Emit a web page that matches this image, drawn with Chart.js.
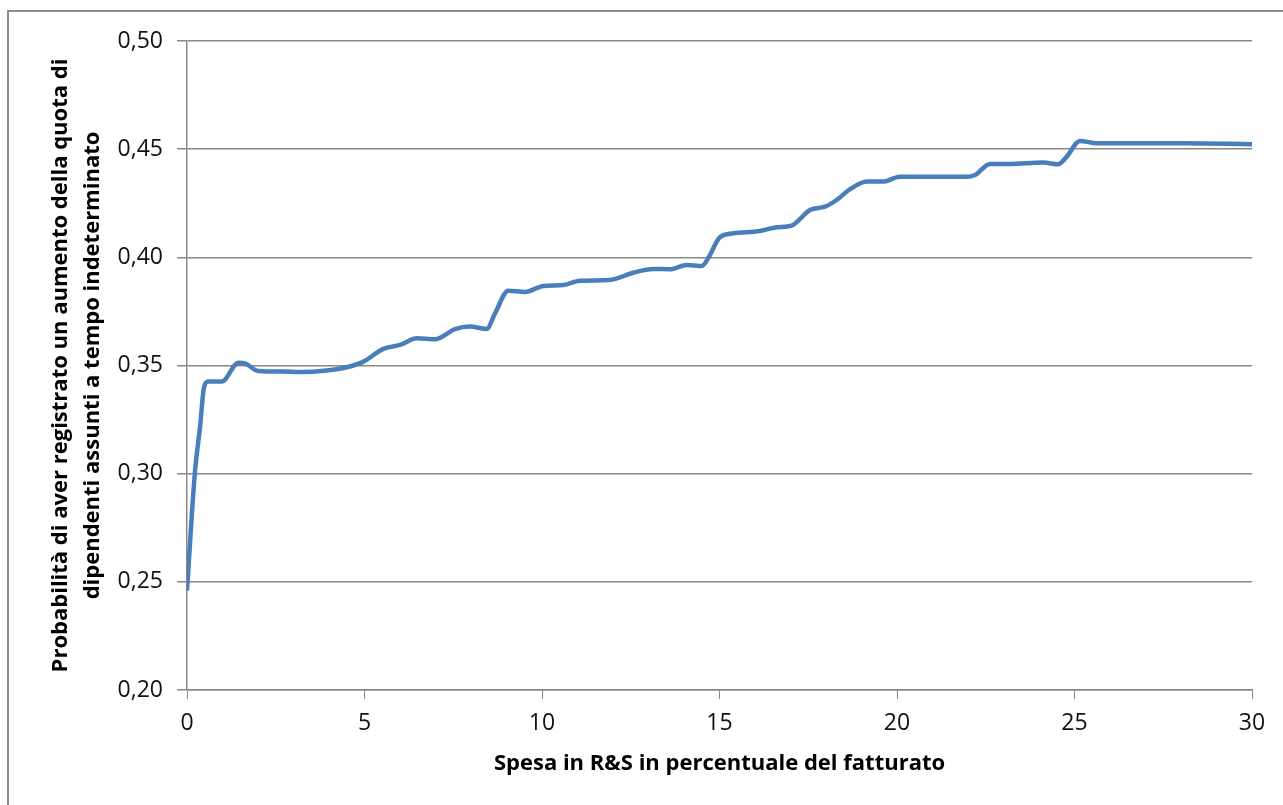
<!DOCTYPE html>
<html>
<head>
<meta charset="utf-8">
<script src="https://cdn.jsdelivr.net/npm/chart.js@4.4.1/dist/chart.umd.min.js"></script>
<style>
  html, body { margin: 0; padding: 0; background: #fff; overflow: hidden; }
  #wrap { position: relative; width: 1283px; height: 805px; }
  #frame { position: absolute; left: 7px; top: 10px; width: 1400px; height: 900px; border: 2px solid #8c8c8c; }
  canvas { position: absolute; left: 0; top: 0; }
</style>
</head>
<body>
<div id="wrap">
  <div id="frame"></div>
  <canvas id="chart" width="1283" height="805"></canvas>
</div>
<script>
'use strict'

// spesa in R&S (% del fatturato)
const spesa = [0, 0.22, 0.37, 0.48, 0.6, 0.98, 1.45, 1.63, 2.0, 2.7, 3.2, 3.93, 4.5, 4.97, 5.53, 6.0, 6.47, 6.99, 7.55, 7.97, 8.44, 8.68, 9.05, 9.52, 10.04, 10.6, 11.07, 11.9, 12.57, 13.13, 13.6, 14.08, 14.5, 14.68, 15.01, 15.39, 16.14, 16.61, 17.03, 17.55, 17.97, 18.3, 18.68, 19.15, 19.61, 20.08, 21.02, 21.96, 22.2, 22.62, 23.18, 24.12, 24.54, 24.78, 25.15, 25.63, 28.07, 30];
// probabilità stimata
const prob = [0.246, 0.300, 0.322, 0.340, 0.3426, 0.3426, 0.3513, 0.351, 0.3475, 0.3472, 0.347, 0.3477, 0.3492, 0.3518, 0.3577, 0.3595, 0.3626, 0.3621, 0.3668, 0.368, 0.3669, 0.3742, 0.3846, 0.384, 0.3868, 0.3872, 0.3892, 0.3895, 0.3929, 0.3946, 0.3945, 0.3965, 0.396, 0.3996, 0.4093, 0.4111, 0.4122, 0.4139, 0.4147, 0.4219, 0.4234, 0.4265, 0.4315, 0.435, 0.435, 0.4373, 0.4373, 0.4373, 0.4381, 0.4432, 0.4432, 0.4438, 0.443, 0.4465, 0.4538, 0.4527, 0.4527, 0.4523];

const xTitle = 'Spesa in R&S in percentuale del fatturato';
const yTitle = ['Probabilità di aver registrato un aumento della quota di', 'dipendenti assunti a tempo indeterminato'];

const gridColor = '#878787';
const font = '"Open Sans", "Noto Sans", sans-serif';

const ctx = document.getElementById('chart').getContext('2d');
new Chart(ctx, {
  type: 'line',
  data: {
    datasets: [{
      data: spesa.map((x, i) => ({ x: x, y: prob[i] })),
      borderColor: '#4a7ebb',
      borderWidth: 4.5,
      pointRadius: 0,
      fill: false,
      cubicInterpolationMode: 'monotone',
    }]
  },
  options: {
    responsive: false,
    animation: false,
    layout: { padding: { left: 0, top: 41, right: 31, bottom: 0 } },
    plugins: { legend: { display: false }, tooltip: { enabled: false } },
    scales: {
      x: {
        type: 'linear',
        min: 0,
        max: 30,
        afterFit: s => { s.height = 115; },
        ticks: {
          stepSize: 5,
          color: '#111',
          font: { family: font, size: 23 },
          padding: 11,
          maxRotation: 0,
        },
        grid: { drawOnChartArea: false, color: gridColor, tickLength: 9 },
        border: { color: gridColor, width: 1.5 },
        title: {
          display: true,
          text: xTitle,
          color: '#000',
          font: { family: font, size: 22, weight: 'bold', lineHeight: 1.2 },
          padding: { top: 0, bottom: 28 },
        },
      },
      y: {
        min: 0.2,
        max: 0.5,
        afterFit: s => { s.width = 187; },
        ticks: {
          stepSize: 0.05,
          color: '#111',
          font: { family: font, size: 23 },
          padding: 14,
          callback: v => v.toFixed(2).replace('.', ','),
        },
        grid: { color: gridColor, lineWidth: 1.5, tickLength: 10 },
        border: { color: gridColor, width: 1.5 },
        title: {
          display: true,
          text: yTitle,
          color: '#000',
          font: { family: font, size: 22, weight: 'bold', lineHeight: 1.45 },
          padding: { top: 45, bottom: 0 },
        },
      },
    },
  },
});
</script>
</body>
</html>
